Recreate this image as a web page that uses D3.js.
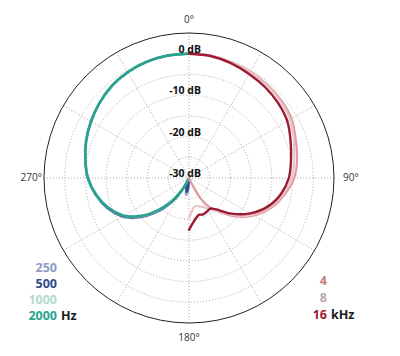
<!DOCTYPE html>
<html><head><meta charset="utf-8">
<script src="https://cdn.jsdelivr.net/npm/d3@7"></script>
<style>body{margin:0;background:#fff}svg{display:block}</style>
</head><body><svg id="c" width="400" height="356"></svg>
<script>
// ---- data ----
const anglesLow = [180,185,190,195,200,205,210,215,220,225,230,235,240,250,260,270,280,290,300,310,320,330,340,350,360];
const hz250  = [-30,-26.5,-25.8,-27,-28.5,-28.6,-26.2,-23.0,-20.3,-17.8,-15.3,-13.1,-11.3,-8.9,-7.0,-5.5,-4.5,-3.5,-2.6,-1.8,-1.0,-0.5,-0.15,0,0];
const hz500  = [-30,-27.3,-26.6,-27.5,-28.8,-28.2,-26.0,-23.2,-20.6,-18.1,-15.6,-13.4,-11.5,-9.0,-7.1,-5.6,-4.6,-3.6,-2.7,-1.8,-1.0,-0.5,-0.15,0,0];
const hz1000 = [-30,-30,-30,-30,-30,-29,-26.6,-23.7,-21.0,-18.4,-15.8,-13.7,-11.7,-9.2,-7.2,-5.6,-4.6,-3.6,-2.7,-1.8,-1.0,-0.5,-0.15,0,0];
const hz2000 = [-30,-30,-30,-30,-30,-30,-27.0,-24.0,-21.3,-18.6,-16.0,-13.8,-11.8,-9.2,-7.2,-5.6,-4.6,-3.6,-2.7,-1.8,-1.0,-0.5,-0.15,0,0];

const anglesHigh = [0,10,20,30,40,50,60,70,80,90,100,110,120,130,140,145,150,155,160,165,170,175,180];
const khz4  = [0,0,-0.2,-0.4,-0.6,-0.9,-1.4,-2.6,-3.5,-4.6,-6.6,-8.9,-11.9,-15.6,-19.6,-21.4,-24.0,-28.5,-30,-30,-30,-30,-30];
const khz8  = [0,0,-0.2,-0.5,-0.8,-1.2,-1.8,-3.1,-4.2,-5.2,-7.0,-9.3,-12.3,-16.0,-19.8,-20.8,-21.6,-22.3,-22.7,-23.0,-22.9,-22.0,-20.3];
const khz16 = [0,-0.1,-0.5,-1.0,-1.4,-1.9,-2.6,-3.9,-5.0,-5.9,-7.5,-9.8,-12.9,-16.6,-20.2,-21.0,-20.9,-20.7,-20.6,-20.8,-20.2,-19.1,-17.5];

const ringTicks = [-25,-20,-15,-10,-5,0];
const dbLabels = [0,-10,-20,-30];
const spokeAngles = d3.range(0,360,30);
const angleLabels = ["0°","90°","180°","270°"];
const angleLabelAngles = [0,90,180,270];

const lowSeries = [
  {name:"250", vals:hz250, color:"#8f9cc9", w:2},
  {name:"500", vals:hz500, color:"#2d4b8c", w:2},
  {name:"1000", vals:hz1000, color:"#b4d9c9", w:2},
  {name:"2000", vals:hz2000, color:"#27a48f", w:2.7}
];
const highSeries = [
  {name:"4", vals:khz4, color:"#e19aa0", w:2.2},
  {name:"8", vals:khz8, color:"#e6c6c6", w:2.2},
  {name:"16", vals:khz16, color:"#9e1a33", w:2.4}
];

// ---- chart ----
const cx = 189, cy = 178;
const r = d3.scaleLinear().domain([-30,5]).range([0,145]).clamp(true);
const svg = d3.select("#c");
const g = svg.append("g").attr("transform",`translate(${cx},${cy})`);
const FONT = "'Open Sans', 'Noto Sans', sans-serif";

// grid circles
g.selectAll("circle.ring").data(ringTicks).join("circle")
  .attr("r", d => r(d)).attr("fill","none")
  .attr("stroke","#a8a8a8").attr("stroke-width",1).attr("stroke-dasharray","1,2");
// spokes
g.selectAll("line.spoke").data(spokeAngles).join("line")
  .attr("x1",0).attr("y1",0)
  .attr("x2", d => r(5)*Math.sin(d*Math.PI/180))
  .attr("y2", d => -r(5)*Math.cos(d*Math.PI/180))
  .attr("stroke","#a8a8a8").attr("stroke-width",1).attr("stroke-dasharray","1,2");
// outer circle
g.append("circle").attr("r", r(5)).attr("fill","none").attr("stroke","#222").attr("stroke-width",1);

// curves
const line = d3.lineRadial()
  .angle(d => d.a*Math.PI/180).radius(d => r(d.v))
  .curve(d3.curveCatmullRom.alpha(0.5));
function draw(series, angles){
  series.forEach(s => {
    const pts = angles.map((a,i)=>({a, v:s.vals[i]}));
    g.append("path").attr("d", line(pts)).attr("fill","none")
      .attr("stroke", s.color).attr("stroke-width", s.w)
      .attr("stroke-linejoin","round").attr("stroke-linecap","round");
  });
}
draw(lowSeries, anglesLow);
draw(highSeries, anglesHigh);

// dB labels
g.selectAll("text.db").data(dbLabels).join("text")
  .attr("x", 12).attr("y", d => -r(d) - 1)
  .attr("text-anchor","end")
  .style("font-family", FONT).style("font-size","10.5px").style("font-weight","700")
  .attr("fill","#111")
  .text(d => d + " dB");

// angle labels
const angPos = [[0,-155],[154,3],[0,163],[-147,3]];
g.selectAll("text.ang").data(angleLabelAngles).join("text")
  .attr("x", (d,i) => angPos[i][0]).attr("y", (d,i) => angPos[i][1])
  .attr("text-anchor", (d,i) => i===3 ? "end" : (i===1 ? "start" : "middle"))
  .style("font-family", FONT).style("font-size","10px")
  .attr("fill","#333")
  .text((d,i) => angleLabels[i]);

// legends
const LF = "12.5px";
const legL = svg.append("g");
lowSeries.forEach((s,i) => {
  legL.append("text").attr("x",57).attr("y",272 + i*16)
    .attr("text-anchor","end")
    .style("font-family",FONT).style("font-size",LF).style("font-weight","700")
    .attr("fill", s.color).text(s.name);
});
legL.append("text").attr("x",61).attr("y",272+3*16)
  .style("font-family",FONT).style("font-size",LF).style("font-weight","700")
  .attr("fill","#1a1a1a").text("Hz");

const legColorsR = ["#c9777b","#b9a9a9","#9e1a33"];
const legR = svg.append("g");
highSeries.forEach((s,i) => {
  legR.append("text").attr("x",327).attr("y",285 + i*17.2)
    .attr("text-anchor","end")
    .style("font-family",FONT).style("font-size",LF).style("font-weight","700")
    .attr("fill", legColorsR[i]).text(s.name);
});
legR.append("text").attr("x",331).attr("y",285+2*17.2)
  .style("font-family",FONT).style("font-size",LF).style("font-weight","700")
  .attr("fill","#1a1a1a").text("kHz");
</script></body></html>
